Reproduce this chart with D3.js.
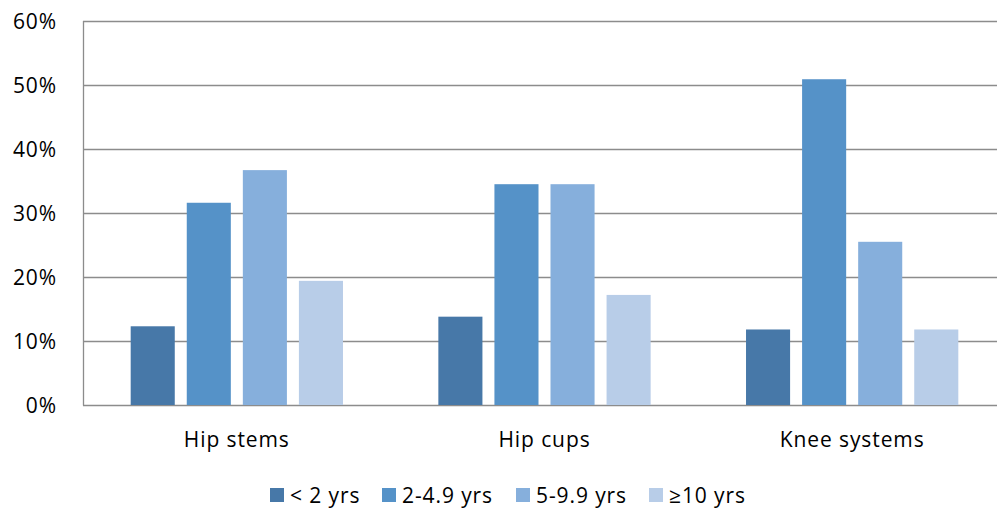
<!DOCTYPE html>
<html><head><meta charset="utf-8">
<script src="https://cdn.jsdelivr.net/npm/d3@7"></script>
<style>body{margin:0;background:#fff}svg{display:block}text{font-family:"Open Sans",sans-serif;fill:#000;letter-spacing:0.9px}</style>
</head><body><svg id="c" width="997" height="516"></svg>
<script>
const categories = ["Hip stems", "Hip cups", "Knee systems"];
const seriesNames = ["< 2 yrs", "2-4.9 yrs", "5-9.9 yrs", "≥10 yrs"];
const lt2 = [12.3, 13.8, 11.8];
const y2to5 = [31.6, 34.5, 50.9];
const y5to10 = [36.7, 34.5, 25.5];
const ge10 = [19.4, 17.2, 11.8];
const yTicks = [0, 10, 20, 30, 40, 50, 60];
const colors = ["#4778a8", "#5592c8", "#86afdc", "#b8cde8"];
const series = [lt2, y2to5, y5to10, ge10];

const svg = d3.select("#c");
const L = 83, R = 1006, T = 21, B = 405;
const y = d3.scaleLinear().domain([0, 60]).range([B, T]);
const x0 = d3.scaleBand().domain(categories).range([L, R]).paddingInner(0.31).paddingOuter(0.155);
const x1 = d3.scaleBand().domain(d3.range(4)).range([0, x0.bandwidth()]).paddingInner(0.214).paddingOuter(0);

// gridlines
svg.append("g").selectAll("line").data(yTicks).join("line")
  .attr("x1", L).attr("x2", R).attr("y1", d => Math.round(y(d)) + 0.5).attr("y2", d => Math.round(y(d)) + 0.5)
  .attr("stroke", "#8c8c8c").attr("stroke-width", 1.3);
svg.append("line").attr("x1", L + 0.5).attr("x2", L + 0.5).attr("y1", T).attr("y2", B + 0.5)
  .attr("stroke", "#8c8c8c").attr("stroke-width", 1.3);

// y labels
svg.append("g").selectAll("text").data(yTicks).join("text")
  .attr("x", 57).attr("y", d => y(d) + 7.5).attr("text-anchor", "end")
  .style("font-size", "21px").text(d => d + "%");

// bars
categories.forEach((c, ci) => {
  series.forEach((s, si) => {
    svg.append("rect")
      .attr("x", x0(c) + x1(si)).attr("width", x1.bandwidth())
      .attr("y", y(s[ci])).attr("height", B - y(s[ci]))
      .attr("fill", colors[si]);
  });
});

// category labels
svg.append("g").selectAll("text").data(categories).join("text")
  .attr("x", d => x0(d) + x0.bandwidth() / 2).attr("y", 447).attr("text-anchor", "middle")
  .style("font-size", "21px").text(d => d);

// legend
const legX = [270, 382, 516, 649];
const lg = svg.append("g");
seriesNames.forEach((n, i) => {
  lg.append("rect").attr("x", legX[i]).attr("y", 488).attr("width", 14).attr("height", 14).attr("fill", colors[i]);
  lg.append("text").attr("x", legX[i] + 20).attr("y", 502.5).style("font-size", "21px").text(n);
});
</script></body></html>
